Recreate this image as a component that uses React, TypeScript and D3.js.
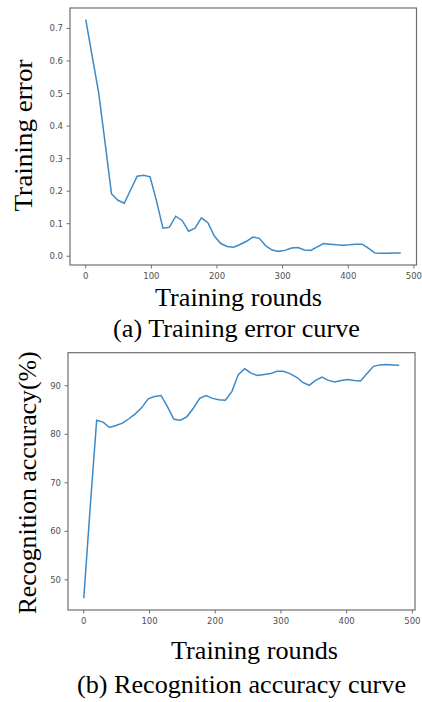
import React from "react";
import * as d3 from "d3";

// training rounds (50 evenly spaced checkpoints)
const rounds = [
  0, 9.8, 19.6, 29.4, 39.2, 49.0, 58.8, 68.6, 78.4, 88.2,
  98.0, 107.8, 117.6, 127.3, 137.1, 146.9, 156.7, 166.5, 176.3, 186.1,
  195.9, 205.7, 215.5, 225.3, 235.1, 244.9, 254.7, 264.5, 274.3, 284.1,
  293.9, 303.7, 313.5, 323.3, 333.1, 342.9, 352.7, 362.4, 372.2, 382.0,
  391.8, 401.6, 411.4, 421.2, 431.0, 440.8, 450.6, 460.4, 470.2, 480
];

const trainingError = [
  0.727, 0.615, 0.504, 0.35, 0.192, 0.172, 0.163, 0.205, 0.246, 0.249,
  0.244, 0.17, 0.086, 0.089, 0.123, 0.11, 0.077, 0.086, 0.118, 0.103,
  0.062, 0.039, 0.03, 0.028, 0.036, 0.046, 0.059, 0.055, 0.032, 0.019,
  0.015, 0.018, 0.025, 0.027, 0.019, 0.018, 0.029, 0.039, 0.037, 0.035,
  0.034, 0.035, 0.037, 0.037, 0.024, 0.01, 0.009, 0.009, 0.01, 0.01
];

const accuracy = [
  46.2, 65.0, 82.9, 82.5, 81.4, 81.8, 82.3, 83.2, 84.2, 85.5,
  87.3, 87.8, 88.0, 85.7, 83.1, 82.9, 83.6, 85.3, 87.4, 88.0,
  87.4, 87.1, 87.0, 88.8, 92.3, 93.5, 92.6, 92.1, 92.3, 92.5,
  93.0, 93.0, 92.5, 91.8, 90.7, 90.1, 91.1, 91.8, 91.1, 90.8,
  91.1, 91.3, 91.1, 91.0, 92.5, 94.0, 94.3, 94.4, 94.3, 94.2
];

const xTicks = [0, 100, 200, 300, 400, 500];
const errorTicks = [0, 0.1, 0.2, 0.3, 0.4, 0.5, 0.6, 0.7];
const accuracyTicks = [50, 60, 70, 80, 90];

const LINE = "#3b89c9";
const SPINE = "#707070";
const TICKTXT = "#505050";
const SERIF = "'Liberation Serif', 'Times New Roman', serif";

// matplotlib-style 5% padding around the data
const padded = (vals: number[]) => {
  const [lo, hi] = d3.extent(vals) as [number, number];
  const m = (hi - lo) * 0.05;
  return [lo - m, hi + m];
};

type PanelProps = {
  values: number[];
  yTicks: number[];
  yFmt: (v: number) => string;
  box: { left: number; right: number; top: number; bottom: number };
  yLabel: string;
  yLabelX: number;
  yLabelLen: number;
  xLabelY: number;
  captionY: number;
  caption: string;
  captionLen: number;
  xLabelX: number;
  captionX: number;
};

function Panel(p: PanelProps) {
  const { box } = p;
  const x = d3.scaleLinear().domain(padded(rounds)).range([box.left, box.right]);
  const y = d3.scaleLinear().domain(padded(p.values)).range([box.bottom, box.top]);
  const line = d3
    .line<number>()
    .x((d, i) => x(rounds[i]))
    .y(d => y(d));

  const midY = (box.top + box.bottom) / 2;

  return (
    <g>
      <path d={line(p.values) || ""} fill="none" stroke={LINE} strokeWidth={1.5} />
      <rect
        x={box.left}
        y={box.top}
        width={box.right - box.left}
        height={box.bottom - box.top}
        fill="none"
        stroke={SPINE}
        strokeWidth={1.2}
      />
      {xTicks.map(t => (
        <g key={"x" + t} transform={`translate(${x(t)},${box.bottom})`}>
          <line y2={3.5} stroke={SPINE} strokeWidth={1} />
          <text
            y={14}
            textAnchor="middle"
            fontFamily="'DejaVu Sans', sans-serif"
            fontSize={8.5}
            fill={TICKTXT}
          >
            {t}
          </text>
        </g>
      ))}
      {p.yTicks.map(t => (
        <g key={"y" + t} transform={`translate(${box.left},${y(t)})`}>
          <line x2={-3.5} stroke={SPINE} strokeWidth={1} />
          <text
            x={-7}
            dy="0.35em"
            textAnchor="end"
            fontFamily="'DejaVu Sans', sans-serif"
            fontSize={8.5}
            fill={TICKTXT}
          >
            {p.yFmt(t)}
          </text>
        </g>
      ))}
      <text
        transform={`translate(${p.yLabelX},${midY + p.yLabelOffset}) rotate(-90)`}
        textAnchor="middle"
        fontFamily={SERIF}
        fontSize={26}
        textLength={p.yLabelLen}
        lengthAdjust="spacingAndGlyphs"
      >
        {p.yLabel}
      </text>
      <text
        x={p.xLabelX}
        y={p.xLabelY}
        textAnchor="middle"
        fontFamily={SERIF}
        fontSize={26}
        textLength={167}
        lengthAdjust="spacingAndGlyphs"
      >
        Training rounds
      </text>
      <text
        x={p.captionX}
        y={p.captionY}
        textAnchor="middle"
        fontFamily={SERIF}
        fontSize={26}
        textLength={p.captionLen}
        lengthAdjust="spacingAndGlyphs"
      >
        {p.caption}
      </text>
    </g>
  );
}

export default function App() {
  return (
    <svg
      width={422}
      height={702}
      style={{ position: "absolute", left: 0, top: 0, background: "#fff" }}
    >
      <Panel
        values={trainingError}
        yTicks={errorTicks}
        yFmt={d3.format(".1f")}
        box={{ left: 70, right: 416.5, top: 8, bottom: 265 }}
        yLabel="Training error"
        yLabelX={32}
        yLabelLen={152}
        yLabelOffset={-1}
        xLabelX={238.5}
        xLabelY={306}
        caption="(a) Training error curve"
        captionX={236.5}
        captionY={337}
        captionLen={247}
      />
      <Panel
        values={accuracy}
        yTicks={accuracyTicks}
        yFmt={d3.format("d")}
        box={{ left: 68, right: 415, top: 352.7, bottom: 610 }}
        yLabel="Recognition accuracy(%)"
        yLabelX={36}
        yLabelLen={263}
        yLabelOffset={1.5}
        xLabelX={254.5}
        xLabelY={659}
        caption="(b) Recognition accuracy curve"
        captionX={241.5}
        captionY={692.5}
        captionLen={329}
      />
    </svg>
  );
}
